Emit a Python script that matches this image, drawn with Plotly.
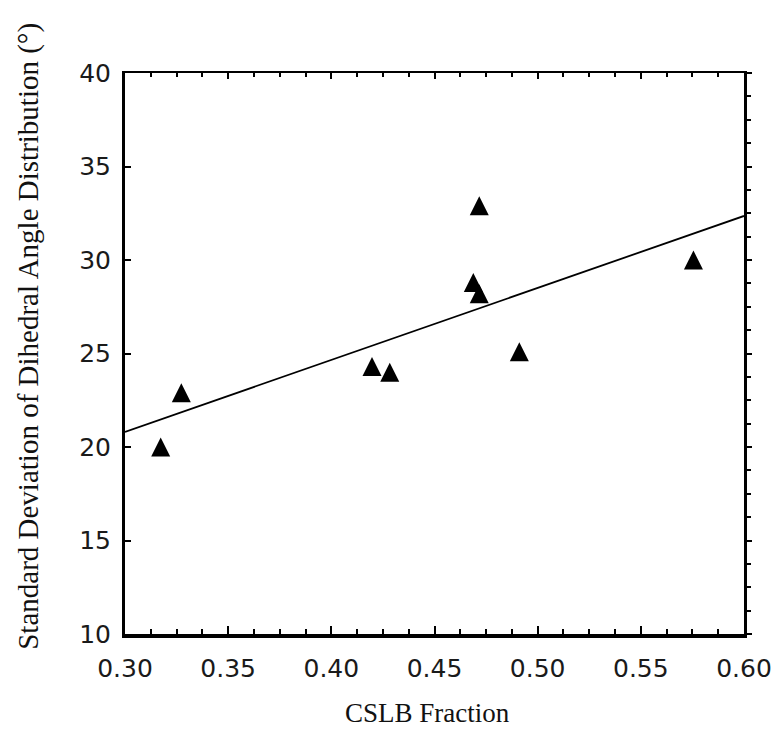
import numpy as np
import plotly.graph_objects as go

# CSLB fraction vs. spread of the dihedral angle distribution
cslb_fraction = [0.3173, 0.3273, 0.4197, 0.4283, 0.4688, 0.4717, 0.4717, 0.4911, 0.5755]
dihedral_sd = [20.0, 22.9, 24.3, 24.0, 28.8, 28.2, 32.9, 25.1, 30.0]

x_tick_vals = [0.30, 0.35, 0.40, 0.45, 0.50, 0.55, 0.60]
x_tick_text = ["0.30", "0.35", "0.40", "0.45", "0.50", "0.55", "0.60"]
y_tick_vals = [10, 15, 20, 25, 30, 35, 40]
y_tick_text = ["10", "15", "20", "25", "30", "35", "40"]

X_RANGE = [0.30, 0.60]
Y_RANGE = [10, 40]

W, H = 784, 731
MARGIN = dict(l=125, r=35, t=73, b=97)
MARKER_SIZE = 19

plot_w = W - MARGIN["l"] - MARGIN["r"]
plot_h = H - MARGIN["t"] - MARGIN["b"]
plot_bottom = H - MARGIN["b"]


def paper_x(px):
    return (px - MARGIN["l"]) / plot_w


def paper_y(py):
    return (plot_bottom - py) / plot_h


# least-squares trend line across the full x range
slope, intercept = np.polyfit(cslb_fraction, dihedral_sd, 1)
fit_x = np.array(X_RANGE)
fit_y = slope * fit_x + intercept

# the arrow-up glyph hangs below its anchor point; a shifted twin axis
# centres each triangle on its value
px_per_unit = plot_h / (Y_RANGE[1] - Y_RANGE[0])
marker_shift = (MARKER_SIZE / 2) / px_per_unit

BLACK = "#000000"
tick_font = dict(family="DejaVu Sans", size=25, color="#1a1a1a")
y_title_font = dict(family="Liberation Serif", size=29, color="#111111")
x_title_font = dict(family="Liberation Serif", size=27, color="#111111")

fig = go.Figure()

fig.add_trace(go.Scatter(
    x=fit_x, y=fit_y, mode="lines",
    line=dict(color=BLACK, width=1.8),
    showlegend=False, hoverinfo="skip",
))

fig.add_trace(go.Scatter(
    x=cslb_fraction, y=dihedral_sd, mode="markers", yaxis="y3",
    marker=dict(symbol="arrow-up", size=MARKER_SIZE, color=BLACK,
                line=dict(width=0)),
    showlegend=False, cliponaxis=False,
))

# frame axes on the top and right
fig.add_trace(go.Scatter(x=[], y=[], xaxis="x2", yaxis="y2", showlegend=False))

fig.update_layout(
    width=W, height=H,
    margin=MARGIN,
    paper_bgcolor="white", plot_bgcolor="white",
    xaxis=dict(
        range=X_RANGE, tickmode="array", tickvals=x_tick_vals, ticktext=x_tick_text,
        ticks="inside", ticklen=8, tickwidth=2, tickcolor=BLACK,
        minor=dict(tickmode="linear", tick0=0.30, dtick=0.0125, ticks="inside",
                   ticklen=5, tickwidth=2, tickcolor=BLACK, showgrid=False),
        showline=True, linewidth=4, linecolor=BLACK,
        showgrid=False, zeroline=False, tickfont=tick_font,
        ticklabelstandoff=9,
    ),
    xaxis2=dict(
        range=X_RANGE, overlaying="x", side="top", anchor="y2",
        tickmode="array", tickvals=x_tick_vals, showticklabels=False,
        ticks="inside", ticklen=6, tickwidth=2, tickcolor=BLACK,
        minor=dict(tickmode="linear", tick0=0.30, dtick=0.0125, ticks="inside",
                   ticklen=4, tickwidth=2, tickcolor=BLACK, showgrid=False),
        showline=True, linewidth=2, linecolor=BLACK,
        showgrid=False, zeroline=False,
    ),
    yaxis=dict(
        range=Y_RANGE, tickmode="array", tickvals=y_tick_vals, ticktext=y_tick_text,
        ticks="inside", ticklen=6, tickwidth=2, tickcolor=BLACK,
        showline=True, linewidth=3, linecolor=BLACK,
        showgrid=False, zeroline=False, tickfont=tick_font,
        ticklabelstandoff=6,
    ),
    yaxis2=dict(
        range=Y_RANGE, overlaying="y", side="right", anchor="x2",
        tickmode="array", tickvals=y_tick_vals, showticklabels=False,
        ticks="outside", ticklen=5, tickwidth=2, tickcolor=BLACK,
        minor=dict(tickmode="linear", tick0=10, dtick=1.25, ticks="outside",
                   ticklen=4, tickwidth=2, tickcolor=BLACK, showgrid=False),
        showline=True, linewidth=2.5, linecolor=BLACK,
        showgrid=False, zeroline=False,
    ),
    yaxis3=dict(
        range=[Y_RANGE[0] - marker_shift, Y_RANGE[1] - marker_shift],
        overlaying="y", visible=False,
    ),
    annotations=[
        dict(text="CSLB Fraction", xref="paper", yref="paper",
             x=paper_x(430), y=paper_y(713), xanchor="center", yanchor="middle",
             showarrow=False, font=x_title_font),
        dict(text="Standard Deviation of Dihedral Angle Distribution (°)",
             xref="paper", yref="paper", x=paper_x(27), y=paper_y(336),
             xanchor="center", yanchor="middle", textangle=-90,
             showarrow=False, font=y_title_font),
    ],
)

fig.write_html("out.html")
